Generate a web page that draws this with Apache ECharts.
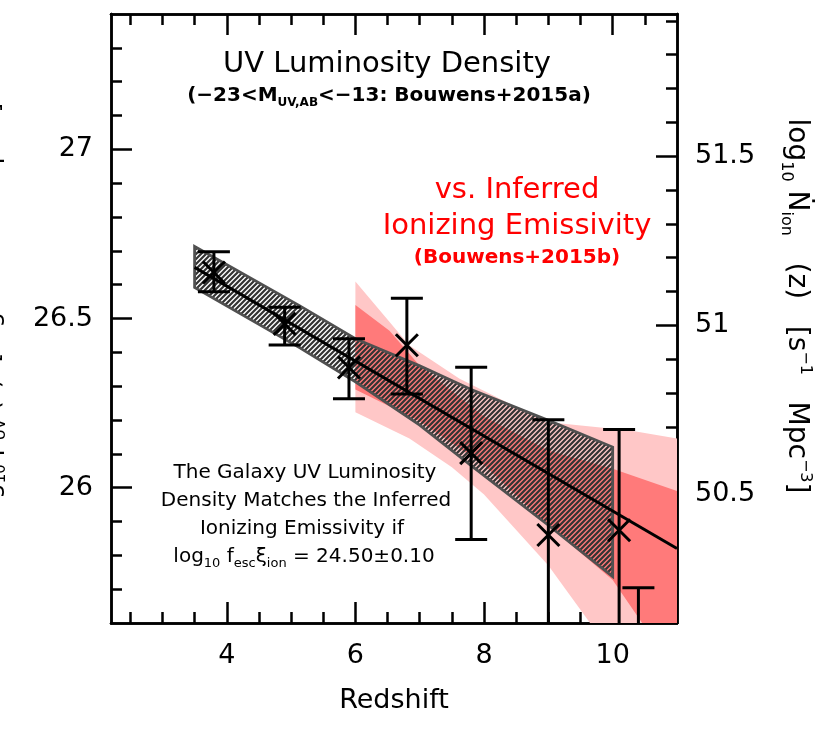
<!DOCTYPE html>
<html>
<head>
<meta charset="utf-8">
<title>UV Luminosity Density vs Ionizing Emissivity</title>
<script src="https://cdn.jsdelivr.net/npm/echarts@6/dist/echarts.min.js"></script>
<style>
html,body{margin:0;padding:0;background:#fff;}
#chart{width:830px;height:736px;}
</style>
</head>
<body>
<div id="chart"></div>
<script>
// measured points: redshift vs log10 rho_UV (with error bar ends)
const zPoints   = [3.8, 4.9, 5.9, 6.8, 7.8, 9.0, 10.1, 10.4];
const rhoValues = [26.636, 26.484, 26.355, 26.421, 26.102, 25.860, 25.874, 25.40];
const rhoUpper  = [26.697, 26.533, 26.440, 26.560, 26.356, 26.201, 26.172, 25.704];
const rhoLower  = [26.579, 26.422, 26.263, 26.277, 25.847, 25.30, 25.30, 25.20];

// straight fit line
const fitZ   = [3.5, 11.0];
const fitRho = [26.651, 25.82];

// hatched band
const bandZ     = [3.5, 5.13, 6.0, 7.0, 7.8, 9.0, 10.0];
const bandUpper = [26.713, 26.538, 26.440, 26.360, 26.290, 26.199, 26.120];
const bandLower = [26.592, 26.414, 26.313, 26.185, 26.065, 25.889, 25.737];

// inferred ionizing emissivity, outer (light) region
const ionOuterUpperZ = [6.0, 6.84, 7.62, 8.97, 10.27, 11.0];
const ionOuterUpper  = [26.609, 26.420, 26.322, 26.194, 26.169, 26.145];
const ionOuterLowerZ = [6.0, 6.84, 7.5, 8.0, 9.0, 9.64, 10.5, 11.0];
const ionOuterLower  = [26.223, 26.145, 26.060, 25.980, 25.770, 25.602, 25.35, 25.20];
// inner (dark) region
const ionInnerUpperZ = [6.0, 6.53, 7.0, 8.0, 9.0, 10.0, 11.0];
const ionInnerUpper  = [26.540, 26.464, 26.360, 26.210, 26.110, 26.056, 25.990];
const ionInnerLowerZ = [6.0, 7.0, 8.0, 9.0, 10.0, 10.45, 11.0];
const ionInnerLower  = [26.290, 26.196, 26.067, 25.888, 25.727, 25.602, 25.45];

// tick values
const xMajorTicks = [4, 6, 8, 10];
const xMinorTicks = [2.5, 3, 3.5, 4.5, 5, 5.5, 6.5, 7, 7.5, 8.5, 9, 9.5, 10.5];
const yLeftMajor  = [26, 26.5, 27];
const yLeftMinor  = [25.7, 25.8, 25.9, 26.1, 26.2, 26.3, 26.4, 26.6, 26.7, 26.8, 26.9, 27.1, 27.2, 27.3];
const yRightMajor = [50.5, 51, 51.5];
const yRightMinor = [50.2, 50.3, 50.4, 50.6, 50.7, 50.8, 50.9, 51.1, 51.2, 51.3, 51.4, 51.6, 51.7, 51.8, 51.9];

const font = 'DejaVu Sans';
const rightOffset = 24.52;

const chart = echarts.init(document.getElementById('chart'));

function hatch() {
    const s = 5;
    const c = document.createElement('canvas');
    c.width = s; c.height = s;
    const g = c.getContext('2d');
    g.strokeStyle = '#333';
    g.lineWidth = 2.2;
    g.beginPath();
    g.moveTo(-1, s + 1); g.lineTo(s + 1, -1);
    g.moveTo(-2, 2); g.lineTo(2, -2);
    g.moveTo(s - 2, s + 2); g.lineTo(s + 2, s - 2);
    g.stroke();
    return c;
}
const hatchFill = {image: hatch(), repeat: 'repeat'};

function polygonSeries(name, upZ, up, lowZ, low, style, z) {
    return {
        name: name,
        type: 'custom',
        clip: true,
        z: z,
        silent: true,
        data: [0],
        renderItem: function (params, api) {
            const pts = [];
            for (let i = 0; i < upZ.length; i++) pts.push(api.coord([upZ[i], up[i]]));
            for (let i = lowZ.length - 1; i >= 0; i--) pts.push(api.coord([lowZ[i], low[i]]));
            return {type: 'polygon', shape: {points: pts}, style: style};
        }
    };
}

function sub(size, bold, drop) {
    return {fontSize: size, fontFamily: font, fontWeight: bold ? 'bold' : 'normal', lineHeight: size, padding: [drop, 0, 0, 0]};
}
function sup(size, bold, rise) {
    return {fontSize: size, fontFamily: font, fontWeight: bold ? 'bold' : 'normal', lineHeight: size, padding: [0, 0, rise, 0]};
}

function axisCommon(extra) {
    return Object.assign({
        type: 'value',
        splitLine: {show: false},
        axisLine: {show: true, onZero: false, lineStyle: {color: '#000', width: 2.5}},
    }, extra);
}

const xAxes = [];
[['bottom', true], ['top', false]].forEach(function (p) {
    xAxes.push(axisCommon({
        position: p[0], min: 2.2, max: 11,
        axisTick: {show: true, inside: true, length: 21, customValues: xMajorTicks, lineStyle: {color: '#000', width: 2.5}},
        axisLabel: {show: p[1], customValues: xMajorTicks, fontSize: 27, fontFamily: font, color: '#000', margin: 19}
    }));
    xAxes.push(axisCommon({
        position: p[0], min: 2.2, max: 11,
        axisTick: {show: true, inside: true, length: 11, customValues: xMinorTicks, lineStyle: {color: '#000', width: 2.5}},
        axisLabel: {show: false}
    }));
});

const yAxes = [
    axisCommon({position: 'left', min: 25.6, max: 27.4,
        axisTick: {show: true, inside: true, length: 21, customValues: yLeftMajor, lineStyle: {color: '#000', width: 2.5}},
        axisLabel: {customValues: yLeftMajor, fontSize: 27, fontFamily: font, color: '#000', margin: 18}}),
    axisCommon({position: 'left', min: 25.6, max: 27.4,
        axisTick: {show: true, inside: true, length: 11, customValues: yLeftMinor, lineStyle: {color: '#000', width: 2.5}},
        axisLabel: {show: false}}),
    axisCommon({position: 'right', min: 25.6 + rightOffset, max: 27.4 + rightOffset,
        axisTick: {show: true, inside: true, length: 21, customValues: yRightMajor, lineStyle: {color: '#000', width: 2.5}},
        axisLabel: {customValues: yRightMajor, fontSize: 27, fontFamily: font, color: '#000', margin: 18}}),
    axisCommon({position: 'right', min: 25.6 + rightOffset, max: 27.4 + rightOffset,
        axisTick: {show: true, inside: true, length: 11, customValues: yRightMinor, lineStyle: {color: '#000', width: 2.5}},
        axisLabel: {show: false}})
];

const option = {
    animation: false,
    backgroundColor: '#fff',
    grid: {left: 111, top: 14, right: 153, bottom: 113},
    xAxis: xAxes,
    yAxis: yAxes,
    series: [
        polygonSeries('95%', ionOuterUpperZ, ionOuterUpper, ionOuterLowerZ, ionOuterLower, {fill: '#ffc7c7'}, 1),
        polygonSeries('68%', ionInnerUpperZ, ionInnerUpper, ionInnerLowerZ, ionInnerLower, {fill: '#ff7a7a'}, 2),
        polygonSeries('band', bandZ, bandUpper, bandZ, bandLower, {fill: hatchFill, stroke: '#505050', lineWidth: 2.8, lineJoin: 'miter'}, 3),
        {
            name: 'fit', type: 'line', z: 4, silent: true,
            data: fitZ.map(function (z, i) { return [z, fitRho[i]]; }),
            showSymbol: false, symbol: 'none',
            lineStyle: {color: '#000', width: 3}
        },
        {
            name: 'points', type: 'custom', clip: true, z: 5, silent: true,
            data: zPoints.map(function (z, i) { return [z, rhoValues[i], rhoUpper[i], rhoLower[i]]; }),
            renderItem: function (params, api) {
                const c = api.coord([api.value(0), api.value(1)]);
                const t = api.coord([api.value(0), api.value(2)]);
                const b = api.coord([api.value(0), api.value(3)]);
                const cap = 16, arm = 11;
                const ls = {stroke: '#000', lineWidth: 3};
                return {
                    type: 'group',
                    children: [
                        {type: 'line', shape: {x1: t[0], y1: t[1], x2: b[0], y2: b[1]}, style: ls},
                        {type: 'line', shape: {x1: t[0] - cap, y1: t[1], x2: t[0] + cap, y2: t[1]}, style: ls},
                        {type: 'line', shape: {x1: b[0] - cap, y1: b[1], x2: b[0] + cap, y2: b[1]}, style: ls},
                        {type: 'line', shape: {x1: c[0] - arm, y1: c[1] - arm, x2: c[0] + arm, y2: c[1] + arm}, style: ls},
                        {type: 'line', shape: {x1: c[0] - arm, y1: c[1] + arm, x2: c[0] + arm, y2: c[1] - arm}, style: ls}
                    ]
                };
            }
        }
    ],
    graphic: [
        {type: 'text', x: 387, y: 64, style: {text: 'UV Luminosity Density', font: '29px "' + font + '"', fill: '#000', align: 'center', verticalAlign: 'middle'}},
        {type: 'text', x: 389, y: 96, style: {
            text: '(−23<M{s|UV,AB}<−13: Bouwens+2015a)', fontSize: 20, fontWeight: 'bold', fontFamily: font, lineHeight: 28,
            fill: '#000', align: 'center', verticalAlign: 'middle',
            rich: {s: sub(12, true, 14)}}},
        {type: 'text', x: 517, y: 190, style: {text: 'vs. Inferred', font: '29px "' + font + '"', fill: '#ff0000', align: 'center', verticalAlign: 'middle'}},
        {type: 'text', x: 517, y: 226, style: {text: 'Ionizing Emissivity', font: '29px "' + font + '"', fill: '#ff0000', align: 'center', verticalAlign: 'middle'}},
        {type: 'text', x: 517, y: 258, style: {text: '(Bouwens+2015b)', font: 'bold 20px "' + font + '"', fill: '#ff0000', align: 'center', verticalAlign: 'middle'}},
        {type: 'text', x: 305, y: 473, style: {text: 'The Galaxy UV Luminosity', font: '20px "' + font + '"', fill: '#000', align: 'center', verticalAlign: 'middle'}},
        {type: 'text', x: 306, y: 501, style: {text: 'Density Matches the Inferred', font: '20px "' + font + '"', fill: '#000', align: 'center', verticalAlign: 'middle'}},
        {type: 'text', x: 302, y: 529, style: {text: 'Ionizing Emissivity if', font: '20px "' + font + '"', fill: '#000', align: 'center', verticalAlign: 'middle'}},
        {type: 'text', x: 304, y: 557, style: {
            text: 'log{s|10} f{s|esc}ξ{s|ion} = 24.50±0.10', fontSize: 20, fontFamily: font, lineHeight: 26,
            fill: '#000', align: 'center', verticalAlign: 'middle',
            rich: {s: sub(13, false, 13)}}},
        {type: 'text', x: 394, y: 701, style: {text: 'Redshift', font: '27px "' + font + '"', fill: '#000', align: 'center', verticalAlign: 'middle'}},
        {type: 'text', x: 796, y: 306, rotation: -Math.PI / 2, style: {
            text: 'log{s|10} Ṅ{s|ion}   (z)   [s{p|−1}   Mpc{p|−3}]', fontSize: 28, fontFamily: font, lineHeight: 36,
            fill: '#000', align: 'center', verticalAlign: 'middle',
            rich: {s: sub(16, false, 20), p: sup(16, false, 18)}}},
        {type: 'text', x: 9, y: 312, rotation: Math.PI / 2, style: {
            text: 'log{s|10} ρ{s|UV} (z)  [ergs s{p|−1} Hz{p|−1} Mpc{p|−3}]', fontSize: 25, fontFamily: font, lineHeight: 34,
            fill: '#000', align: 'center', verticalAlign: 'bottom',
            rich: {s: sub(15, false, 19), p: sup(15, false, 17)}}}
    ]
};

chart.setOption(option);
</script>
</body>
</html>
